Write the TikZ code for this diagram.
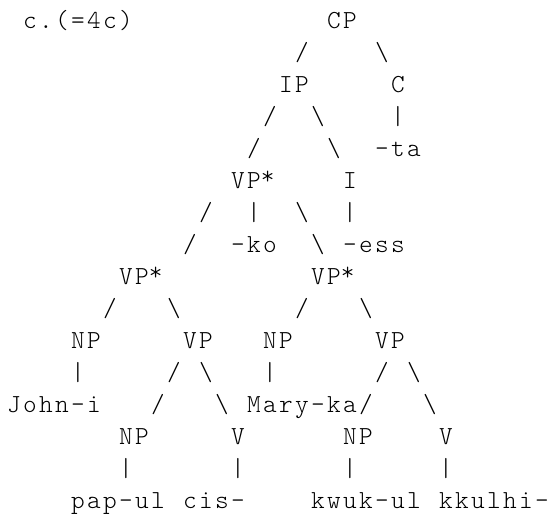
\documentclass[tikz,border=0pt]{standalone}
\usepackage{fontspec}
\setmonofont{Latin Modern Mono Light}[LetterSpace=9.04]
\newcommand{\starmark}{\raisebox{2.5pt}{*}}
\tikzset{
  ascii/.style={anchor=base west, inner sep=0pt, outer sep=0pt, xshift=0.88pt,
    font=\ttfamily\fontsize{19.5pt}{24pt}\selectfont},
}
\begin{document}
\begin{tikzpicture}[x=12pt, y=24pt, every node/.style={ascii}]
      \useasboundingbox (-0.375,0.875) rectangle (34.25,-15.3125);
      \draw
        (1,0) node (ex){c.(=4c)}
        (20,0) node (cp){CP}
        (17,-2) node (ip){IP}
        (24,-2) node (c){C}
        (23,-4) node (ta){-ta}
        (14,-5) node (vp0){VP\starmark}
        (21,-5) node (i){I}
        (14,-7) node (ko){-ko}
        (21,-7) node (ess){-ess}
        (7,-8) node (vp1){VP\starmark}
        (19,-8) node (vp2){VP\starmark}
        (4,-10) node (np1){NP}
        (11,-10) node (vp3){VP}
        (16,-10) node (np2){NP}
        (23,-10) node (vp4){VP}
        (0,-12) node (john){John-i}
        (15,-12) node (mary){Mary-ka}
        (7,-13) node (np3){NP}
        (14,-13) node (v1){V}
        (21,-13) node (np4){NP}
        (27,-13) node (v2){V}
        (4,-15) node (pap){pap-ul}
        (11,-15) node (cis){cis-}
        (19,-15) node (kwuk){kwuk-ul}
        (27,-15) node (kkul){kkulhi-};
      \begin{scope}
        \draw (18,-1) node (b1){/} (23,-1) node (b2){\textbackslash};
        \draw (16,-3) node (b3){/} (19,-3) node (b4){\textbackslash} (24,-3) node (b5){|};
        \draw (15,-4) node (b6){/} (20,-4) node (b7){\textbackslash};
        \draw (12,-6) node (b8){/} (15,-6) node (b9){|} (18,-6) node (b10){\textbackslash} (21,-6) node (b11){|};
        \draw (11,-7) node (b12){/} (19,-7) node (b13){\textbackslash};
        \draw (6,-9) node (b14){/} (10,-9) node (b15){\textbackslash} (18,-9) node (b16){/} (22,-9) node (b17){\textbackslash};
        \draw (4,-11) node (b18){|} (10,-11) node (b19){/} (12,-11) node (b20){\textbackslash};
        \draw (16,-11) node (b21){|} (23,-11) node (b22){/} (25,-11) node (b23){\textbackslash};
        \draw (9,-12) node (b24){/} (13,-12) node (b25){\textbackslash} (22,-12) node (b26){/} (26,-12) node (b27){\textbackslash};
        \draw (7,-14) node (b28){|} (14,-14) node (b29){|} (21,-14) node (b30){|} (27,-14) node (b31){|};
      \end{scope}
    \end{tikzpicture}
\end{document}
